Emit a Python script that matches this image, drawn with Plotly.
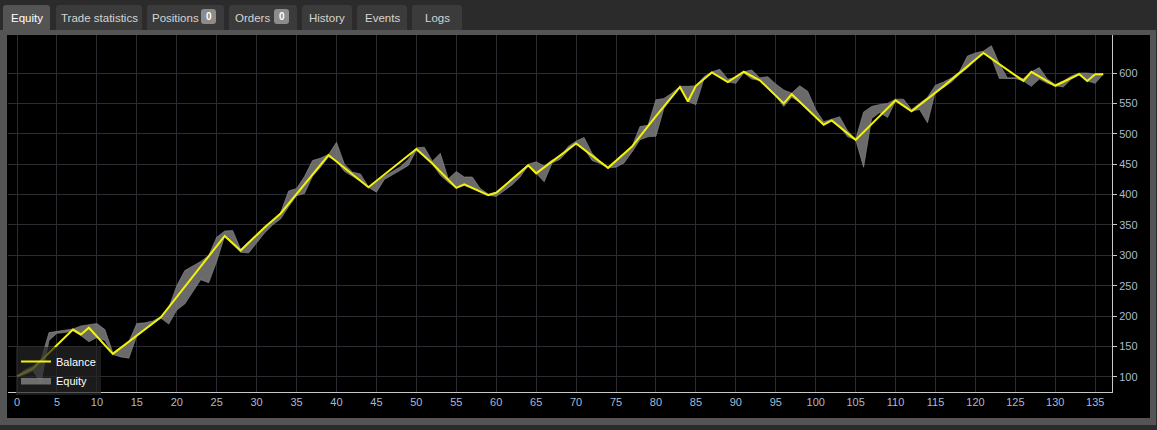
import plotly.graph_objects as go

# Balance: valeurs aux clotures de trades
balance_x = [0, 2, 7, 8, 9, 12, 18, 26, 28, 31, 33, 39, 44, 50, 52, 55, 56, 59, 60, 64,
             65, 70, 74, 77, 80, 83, 84, 85, 87, 89, 91, 93, 96, 97, 101, 102, 105, 110,
             112, 116, 121, 126, 127, 130, 133, 134, 135, 136]
balance_y = [101, 114, 178, 170, 181, 138, 198, 332, 308, 346, 369, 465, 412, 475, 451, 411,
             417, 399, 403, 448, 435, 484, 444, 479, 529, 577, 553, 579, 601, 585, 602, 588,
             550, 565, 515, 522, 490, 555, 537, 578, 633, 587, 602, 579, 598, 587, 598, 598]

# Equity: plage basse / haute a chaque barre
equity_x = list(range(137))
equity_lo = [100, 104, 110, 90, 160, 172, 173, 176, 168, 158, 165, 160, 137, 133, 131, 168,
             178, 188, 197, 187, 210, 220, 240, 260, 255, 290, 332, 318, 305, 304, 320, 337,
             350, 360, 380, 398, 402, 430, 445, 462, 455, 438, 430, 422, 412, 404, 425, 432,
             440, 448, 473, 462, 450, 432, 420, 411, 415, 410, 404, 399, 397, 407, 416, 429,
             448, 435, 421, 452, 458, 472, 484, 476, 456, 451, 444, 445, 452, 470, 490, 495,
             496, 542, 560, 576, 553, 548, 590, 600, 593, 585, 583, 600, 590, 588, 575, 562,
             545, 560, 552, 540, 527, 515, 521, 512, 495, 490, 445, 525, 535, 527, 554, 545,
             537, 540, 518, 570, 576, 585, 598, 608, 622, 633, 625, 591, 591, 591, 587, 578,
             590, 583, 579, 577, 590, 597, 587, 583, 598]
equity_hi = [102, 112, 118, 128, 173, 175, 176, 179, 184, 186, 188, 178, 140, 149, 158, 188,
             189, 192, 199, 214, 250, 275, 282, 290, 300, 330, 340, 341, 310, 322, 335, 348,
             358, 370, 406, 410, 430, 456, 460, 466, 486, 450, 437, 434, 413, 420, 430, 438,
             446, 458, 477, 478, 455, 468, 426, 438, 429, 429, 410, 401, 404, 414, 426, 437,
             450, 454, 447, 457, 462, 479, 488, 494, 468, 455, 445, 456, 467, 479, 512, 514,
             556, 558, 567, 578, 578, 579, 594, 602, 606, 590, 593, 602, 605, 592, 594, 582,
             572, 567, 579, 570, 540, 520, 524, 528, 505, 491, 536, 545, 548, 550, 557, 557,
             540, 550, 560, 580, 585, 592, 602, 628, 633, 636, 645, 615, 592, 592, 591, 602,
             609, 590, 581, 587, 595, 600, 600, 598, 599]

x_ticks = list(range(0, 140, 5))
y_ticks = list(range(100, 650, 50))

tabs = [("Equity", 3, 50, None), ("Trade statistics", 56, 142, None),
        ("Positions", 147, 224, "0"), ("Orders", 229, 297, "0"),
        ("History", 302, 352, None), ("Events", 357, 407, None), ("Logs", 412, 462, None)]

W, H = 1157, 430
ML, MR, MT, MB = 8, 45, 35, 38
PW, PH = W - ML - MR, H - MT - MB


def px(x):
    return (x - ML) / PW


def py(y):
    return (H - MB - y) / PH


def round_top(x0, x1, y0, y1, r=3):
    # rectangle aux coins superieurs arrondis, en pixels -> papier
    return (f"M {px(x0)} {py(y1)} L {px(x0)} {py(y0 + r)} "
            f"Q {px(x0)} {py(y0)} {px(x0 + r)} {py(y0)} L {px(x1 - r)} {py(y0)} "
            f"Q {px(x1)} {py(y0)} {px(x1)} {py(y0 + r)} L {px(x1)} {py(y1)} Z")


def round_all(x0, x1, y0, y1, r=3):
    return (f"M {px(x0 + r)} {py(y0)} L {px(x1 - r)} {py(y0)} "
            f"Q {px(x1)} {py(y0)} {px(x1)} {py(y0 + r)} L {px(x1)} {py(y1 - r)} "
            f"Q {px(x1)} {py(y1)} {px(x1 - r)} {py(y1)} L {px(x0 + r)} {py(y1)} "
            f"Q {px(x0)} {py(y1)} {px(x0)} {py(y1 - r)} L {px(x0)} {py(y0 + r)} "
            f"Q {px(x0)} {py(y0)} {px(x0 + r)} {py(y0)} Z")


fig = go.Figure()

fig.add_trace(go.Scatter(
    x=equity_x, y=equity_lo, mode="lines",
    line=dict(color="rgba(150,150,150,0.9)", width=0.6),
    showlegend=False, hoverinfo="skip"
))
fig.add_trace(go.Scatter(
    x=equity_x, y=equity_hi, mode="lines", fill="tonexty",
    fillcolor="rgba(125,125,125,0.85)",
    line=dict(color="rgba(150,150,150,0.9)", width=0.6),
    name="Equity", hoverinfo="skip"
))
fig.add_trace(go.Scatter(
    x=balance_x, y=balance_y, mode="lines",
    line=dict(color="#f2f20c", width=2),
    name="Balance", hoverinfo="skip"
))

shapes = [
    # cadre gris du panneau + fond noir
    dict(type="rect", xref="paper", yref="paper", x0=px(0), x1=px(1156), y0=py(425), y1=py(30),
         fillcolor="#545454", line_width=0, layer="below"),
    dict(type="rect", xref="paper", yref="paper", x0=px(7), x1=px(1150), y0=py(418), y1=py(35),
         fillcolor="#000000", line_width=0, layer="below"),
]
annotations = []
for label, x0, x1, badge in tabs:
    active = label == "Equity"
    shapes.append(dict(type="path", xref="paper", yref="paper", path=round_top(x0, x1, 5, 30),
                       fillcolor="#545454" if active else "#3b3b3b", line_width=0, layer="below"))
    cx = (x0 + x1) / 2 if badge is None else x0 + (x1 - x0 - 20) / 2
    annotations.append(dict(xref="paper", yref="paper", x=px(cx), y=py(18), text=label,
                            showarrow=False, xanchor="center", yanchor="middle",
                            font=dict(size=11.5, color="#ffffff" if active else "#d4d4d4")))
    if badge is not None:
        shapes.append(dict(type="path", xref="paper", yref="paper",
                           path=round_all(x1 - 23, x1 - 8, 9, 24),
                           fillcolor="#8c8c8c", line_width=0, layer="below"))
        annotations.append(dict(xref="paper", yref="paper", x=px(x1 - 15.5), y=py(16.5), text="<b>" + badge + "</b>",
                                showarrow=False, xanchor="center", yanchor="middle",
                                font=dict(size=10, color="#ffffff")))

fig.update_layout(
    width=W, height=H, autosize=False,
    margin=dict(l=ML, r=MR, t=MT, b=MB),
    paper_bgcolor="#2b2b2b", plot_bgcolor="#000000",
    font=dict(family="Liberation Sans, Arial, sans-serif", size=11, color="#ffffff"),
    shapes=shapes, annotations=annotations,
    legend=dict(x=px(16), y=py(347), xanchor="left", yanchor="top",
                bgcolor="rgba(38,38,38,0.7)", borderwidth=0,
                font=dict(size=11, color="#ffffff"), itemwidth=30,
                traceorder="reversed", tracegroupgap=0),
    xaxis=dict(range=[-1.13, 137.1], tickvals=x_ticks, showgrid=True, gridcolor="#2b2b31",
               gridwidth=1, zeroline=False, showline=True, linecolor="#c8c8c8", linewidth=1,
               ticks="", tickfont=dict(size=11, color="#a9bbd0"), automargin=False, fixedrange=True),
    yaxis=dict(range=[75.3, 662.5], tickvals=y_ticks, side="right", showgrid=True,
               gridcolor="#2b2b31", gridwidth=1, zeroline=False, showline=True,
               linecolor="#c8c8c8", linewidth=1, ticks="outside", ticklen=4, tickcolor="#c8c8c8",
               tickfont=dict(size=11, color="#a9bbd0"), automargin=False, fixedrange=True),
)

# la page par defaut a une marge de 8px sur le body
fig.write_html("out.html", config={"displayModeBar": False},
               post_script="document.body.style.margin='0';")
